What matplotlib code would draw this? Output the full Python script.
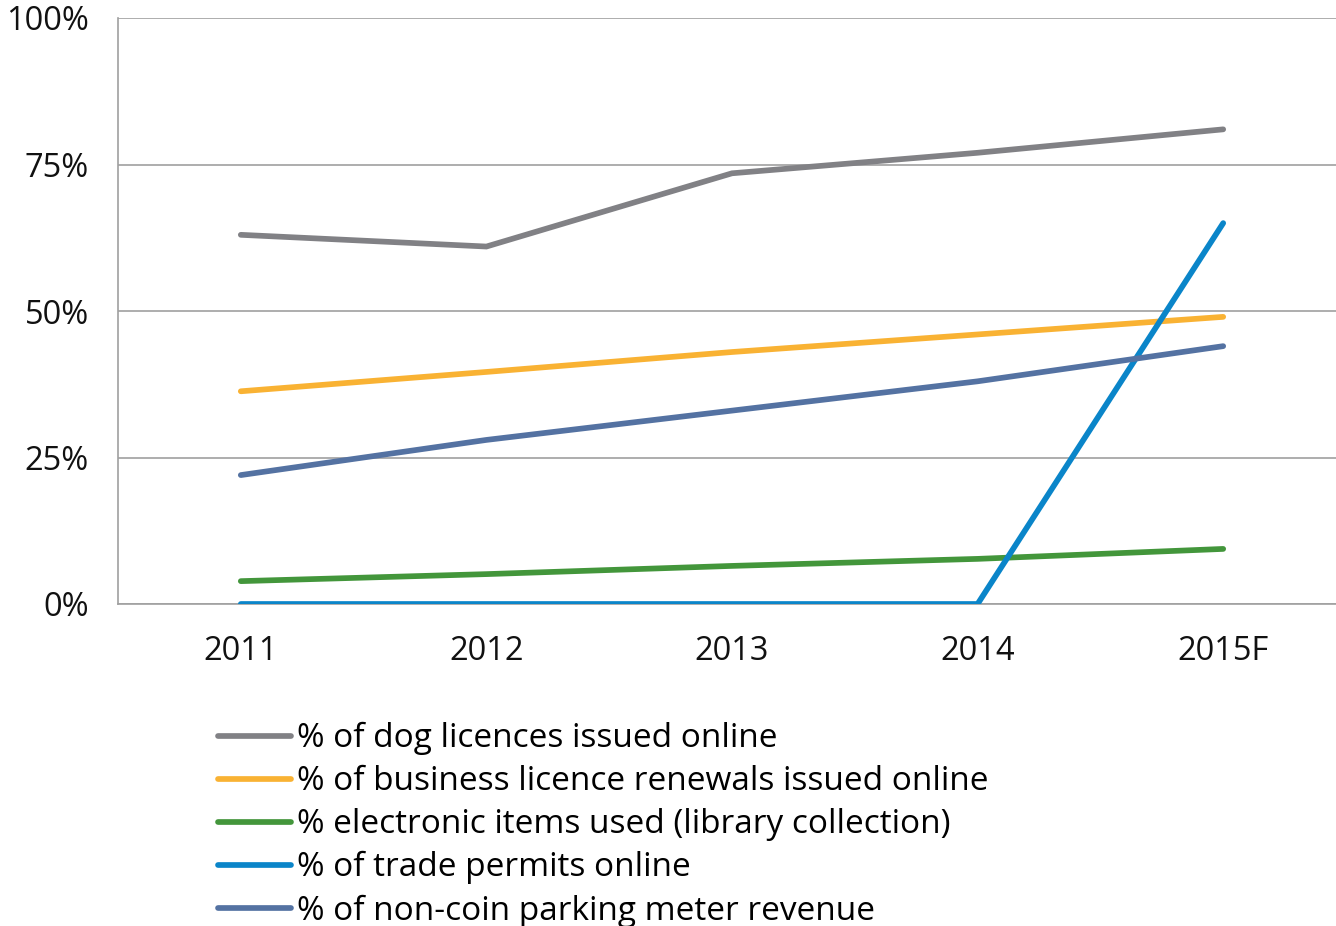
import matplotlib.pyplot as plt
import numpy as np

years = ["2011", "2012", "2013", "2014", "2015F"]

dog_licences = [63, 61, 73.5, 77, 81]
business_renewals = [36.3, 39.6, 43, 46, 49]
electronic_items = [3.9, 5.1, 6.5, 7.7, 9.4]
trade_permits = [0, 0, 0, 0, 65]
parking_revenue = [22, 28, 33, 38, 44]

labels = [
    "% of dog licences issued online",
    "% of business licence renewals issued online",
    "% electronic items used (library collection)",
    "% of trade permits online",
    "% of non-coin parking meter revenue",
]
colors = ["#818185", "#F9B233", "#43963B", "#0A85C9", "#5472A2"]

plt.rcParams['font.family'] = ['Open Sans', 'DejaVu Sans']

fig = plt.figure(figsize=(13.36, 9.26), dpi=100)
ax = fig.add_axes([118 / 1336, 322 / 926, 1228 / 1336, 586 / 926])

x = np.arange(len(years))
series = [dog_licences, business_renewals, electronic_items, trade_permits, parking_revenue]
for vals, lab, col in zip(series, labels, colors):
    ax.plot(x, vals, color=col, lw=4.1, solid_capstyle='round',
            solid_joinstyle='miter', label=lab, zorder=3)

ax.set_xlim(-0.5, 4.5)
ax.set_ylim(0, 100)
ax.set_yticks([0, 25, 50, 75, 100])
ax.set_yticklabels(["0%", "25%", "50%", "75%", "100%"])
ax.set_xticks(x)
ax.set_xticklabels(years)
ax.tick_params(length=0, labelsize=23.5, colors='#111111')
ax.tick_params(axis='y', pad=21)
ax.tick_params(axis='x', pad=22)

ax.yaxis.grid(True, color='#A0A0A0', lw=1.2)
ax.set_axisbelow(True)
for side in ['top', 'right']:
    ax.spines[side].set_visible(False)
ax.spines['left'].set_color('#A0A0A0')
ax.spines['bottom'].set_color('#A0A0A0')
ax.spines['left'].set_linewidth(1.2)
ax.spines['bottom'].set_linewidth(1.2)

fig.legend(loc='upper left', bbox_to_anchor=(218 / 1336, 1 - 722 / 926),
           frameon=False, fontsize=24, handlelength=2.2, handletextpad=0.18,
           labelspacing=0.3, borderpad=0, borderaxespad=0)

fig.savefig("out.png", dpi=100)
